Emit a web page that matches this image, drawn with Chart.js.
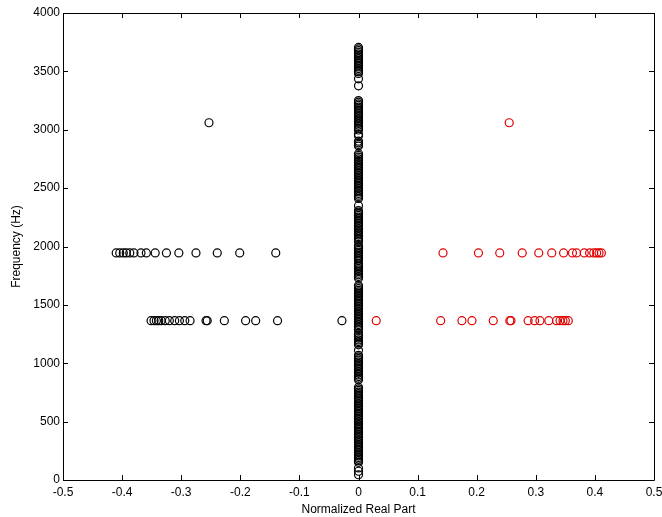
<!DOCTYPE html>
<html>
<head>
<meta charset="utf-8">
<script src="https://cdn.jsdelivr.net/npm/chart.js@4.4.0/dist/chart.umd.min.js"></script>
<style>
  body { margin: 0; background: #fff; }
</style>
</head>
<body>
<canvas id="myChart" width="662" height="517"></canvas>
<script>
//------Data------
const xTicks = [-0.5, -0.4, -0.3, -0.2, -0.1, 0, 0.1, 0.2, 0.3, 0.4, 0.5];
const xTickLabels = ['-0.5', '-0.4', '-0.3', '-0.2', '-0.1', '0', '0.1', '0.2', '0.3', '0.4', '0.5'];
const yTicks = [0, 500, 1000, 1500, 2000, 2500, 3000, 3500, 4000];
const yTickLabels = ['0', '500', '1000', '1500', '2000', '2500', '3000', '3500', '4000'];

// poles near the imaginary axis (real part ~0)
const centerFreq = [
  3705, 3692, 3678, 3664, 3650, 3636, 3622, 3608, 3594, 3580, 3566, 3552, 3538, 3524, 3510, 3496, 3482,
  3436, 3376,
  3250, 3236, 3222, 3208, 3194, 3180, 3166, 3152, 3138, 3124, 3110, 3096, 3082, 3068, 3054, 3040, 3026, 3012, 2998,
  2962, 2948, 2902, 2888, 2874, 2860, 2795, 2780, 2765, 2750, 2735, 2720,
  2706, 2692, 2678, 2664, 2650, 2636, 2622, 2608, 2594, 2580, 2566, 2552, 2538, 2524, 2510, 2496, 2482, 2468, 2454, 2440, 2426, 2412,
  2350,
  2308, 2294, 2280, 2266, 2252, 2238, 2224, 2210, 2196, 2182, 2168, 2154, 2140, 2126, 2112, 2098, 2084, 2070, 2056, 2042,
  2008, 1994, 1980, 1966, 1952, 1938, 1924, 1910, 1896, 1882,
  1855, 1841, 1827, 1813, 1799, 1785, 1771, 1757, 1743, 1729,
  1667, 1653, 1639, 1625, 1611, 1597, 1583, 1569, 1555, 1541, 1527, 1513, 1499, 1485, 1471, 1457, 1443, 1429,
  1415, 1401, 1387, 1373, 1359, 1345, 1331, 1317, 1303, 1289,
  1256, 1242, 1228, 1214, 1200, 1186, 1172, 1158,
  1111,
  1068, 1054, 1040, 1026, 1012, 998, 984, 970, 956, 942, 928, 914, 900, 886, 872, 858,
  795, 781, 767, 753, 739, 725, 711, 697, 683, 669, 655, 641, 627, 613, 599, 585, 571, 557, 543, 529, 515,
  501, 487, 473, 459, 445, 431, 417, 403, 389, 375, 361, 347, 333, 319, 305, 291, 277, 263, 249, 235, 221,
  207, 193, 179, 165, 151,
  103, 75, 45
];

// rows at ~1945 Hz
const upperFreq = 1945;
const blackUpperX = [-0.410, -0.404, -0.398, -0.393, -0.387, -0.380, -0.368, -0.359, -0.344, -0.325, -0.304, -0.275, -0.239, -0.201, -0.140];
const redUpperX = [0.143, 0.203, 0.239, 0.277, 0.305, 0.327, 0.347, 0.362, 0.369, 0.382, 0.391, 0.398, 0.403, 0.407, 0.411];

// rows at ~1365 Hz
const lowerFreq = 1365;
const blackLowerX = [-0.351, -0.346, -0.342, -0.338, -0.334, -0.327, -0.320, -0.311, -0.303, -0.294, -0.285, -0.258, -0.256, -0.227, -0.191, -0.174, -0.137, -0.028];
const redLowerX = [0.030, 0.139, 0.175, 0.192, 0.228, 0.256, 0.258, 0.287, 0.298, 0.307, 0.322, 0.335, 0.341, 0.346, 0.350, 0.355];

// lone pair at ~3060 Hz
const topFreq = 3060;
const blackTopX = [-0.253];
const redTopX = [0.255];
//----------------

const blackPoints = []
  .concat(centerFreq.map(f => ({ x: 0, y: f })))
  .concat(blackUpperX.map(x => ({ x: x, y: upperFreq })))
  .concat(blackLowerX.map(x => ({ x: x, y: lowerFreq })))
  .concat(blackTopX.map(x => ({ x: x, y: topFreq })));

const redPoints = []
  .concat(redUpperX.map(x => ({ x: x, y: upperFreq })))
  .concat(redLowerX.map(x => ({ x: x, y: lowerFreq })))
  .concat(redTopX.map(x => ({ x: x, y: topFreq })));

Chart.defaults.font.family = '"Liberation Sans", Arial, sans-serif';
Chart.defaults.font.size = 12;
Chart.defaults.color = '#000';

//---frame with inward ticks (matlab style)
const framePlugin = {
  id: 'frame',
  afterDraw(chart) {
    const ctx = chart.ctx;
    const a = chart.chartArea;
    const xs = chart.scales.x;
    const ys = chart.scales.y;
    const len = 5;
    ctx.save();
    ctx.strokeStyle = '#000';
    ctx.lineWidth = 1;
    ctx.beginPath();
    ctx.rect(Math.round(a.left) + 0.5, Math.round(a.top) + 0.5, Math.round(a.right - a.left), Math.round(a.bottom - a.top));
    xTicks.forEach(v => {
      const px = Math.round(xs.getPixelForValue(v)) + 0.5;
      ctx.moveTo(px, a.bottom); ctx.lineTo(px, a.bottom - len);
      ctx.moveTo(px, a.top); ctx.lineTo(px, a.top + len);
    });
    yTicks.forEach(v => {
      const py = Math.round(ys.getPixelForValue(v)) + 0.5;
      ctx.moveTo(a.left, py); ctx.lineTo(a.left + len, py);
      ctx.moveTo(a.right, py); ctx.lineTo(a.right - len, py);
    });
    ctx.stroke();
    ctx.restore();
  }
};

const ctx = document.getElementById('myChart').getContext('2d');

new Chart(ctx, {
  type: 'scatter',
  data: {
    datasets: [
      {
        label: 'black',
        data: blackPoints,
        pointStyle: 'circle',
        pointRadius: 4,
        borderWidth: 1.2,
        borderColor: '#000',
        backgroundColor: 'rgba(0,0,0,0)'
      },
      {
        label: 'red',
        data: redPoints,
        pointStyle: 'circle',
        pointRadius: 4,
        borderWidth: 1.2,
        borderColor: '#e00000',
        backgroundColor: 'rgba(0,0,0,0)'
      }
    ]
  },
  options: {
    responsive: false,
    animation: false,
    layout: { padding: { top: 13, right: 8, left: 0, bottom: 0 } },
    plugins: {
      legend: { display: false },
      tooltip: { enabled: false }
    },
    scales: {
      x: {
        type: 'linear',
        min: -0.5,
        max: 0.5,
        afterBuildTicks: scale => { scale.ticks = xTicks.map(v => ({ value: v })); },
        afterFit: scale => {
          scale.height = 37;
          scale.paddingLeft = 0;
          scale.paddingRight = 0;
        },
        grid: { display: false, drawTicks: false },
        border: { display: false },
        ticks: {
          padding: 5,
          maxRotation: 0,
          autoSkip: false,
          callback: (v, i) => xTickLabels[i]
        },
        title: {
          display: true,
          text: 'Normalized Real Part',
          padding: { top: 0, bottom: 0 }
        }
      },
      y: {
        type: 'linear',
        min: 0,
        max: 4000,
        afterBuildTicks: scale => { scale.ticks = yTicks.map(v => ({ value: v })); },
        afterFit: scale => { scale.width = 63; },
        grid: { display: false, drawTicks: false },
        border: { display: false },
        ticks: {
          padding: 3,
          autoSkip: false,
          callback: (v, i) => yTickLabels[i]
        },
        title: {
          display: true,
          text: 'Frequency (Hz)',
          padding: { top: 9, bottom: 0 }
        }
      }
    }
  },
  plugins: [framePlugin]
});
</script>
</body>
</html>
